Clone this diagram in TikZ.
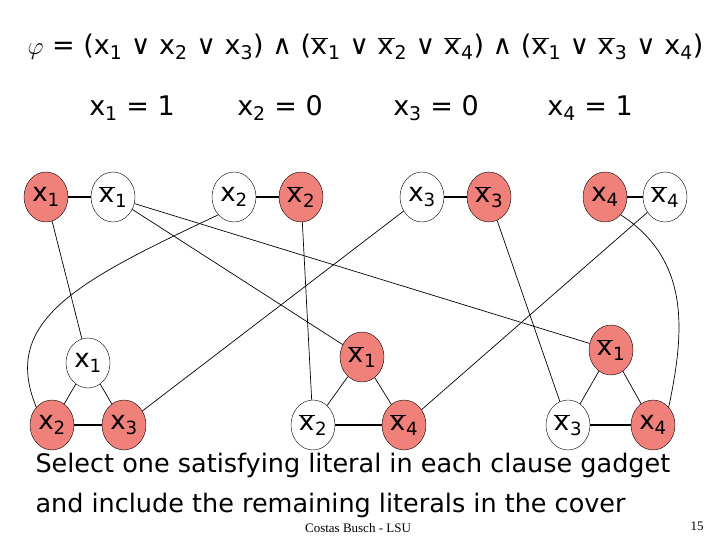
\documentclass[tikz,border=0pt]{standalone}
\usepackage{fontspec}
\setmainfont{DejaVu Sans}
\newfontfamily\footfont{Liberation Serif}
\usetikzlibrary{positioning,shapes.geometric}
\definecolor{litred}{RGB}{240,128,122}
\newcommand\lit[1]{x\textsubscript{#1}}
\newcommand\nlit[1]{$\overline{\hbox{x\kern1pt}}$\textsubscript{#1}}
\tikzset{
  var/.style={ellipse, draw, thin, minimum width=44pt, minimum height=50pt, inner sep=0pt, font=\fontsize{26}{28}\selectfont},
  cover/.style={var, fill=litred},
  line/.style={-, line width=0.7pt},
  pair/.style={-, line width=1.2pt},
  big/.style={font=\fontsize{27}{30}\selectfont},
  caption/.style={anchor=west, font=\fontsize{25.5}{28}\selectfont}
}
\begin{document}
\begin{tikzpicture}[x=1pt,y=-1pt]
  \useasboundingbox (0,0) rectangle (720,540);

  \node (phi) [big, anchor=west] at (24,47)
    {$\varphi$ = (\lit1 ∨ \lit2 ∨ \lit3) ∧ (\nlit1 ∨ \nlit2 ∨ \nlit4) ∧ (\nlit1 ∨ \nlit3 ∨ \lit4)};
  \node (a1) [big] at (132,108) {\lit1 = 1};
  \node (a2) [big] at (280,108) {\lit2 = 0};
  \node (a3) [big] at (436,108) {\lit3 = 0};
  \node (a4) [big] at (590,108) {\lit4 = 1};

% variable gadgets
  \node (v1) [cover] at (46,197) {\lit1};
  \node (n1) [var] at (113,197) {\nlit1};
  \node (v2) [var] at (234,197) {\lit2};
  \node (n2) [cover] at (301,197) {\nlit2};
  \node (v3) [var] at (422,197) {\lit3};
  \node (n3) [cover] at (489,197) {\nlit3};
  \node (v4) [cover] at (605,197) {\lit4};
  \node (n4) [var] at (665,197) {\nlit4};

% clause gadgets
  \node (ca) [var] at (88,363) {\lit1};
  \node (cb) [cover] at (52,425) {\lit2};
  \node (cc) [cover] at (124,425) {\lit3};
  \node (da) [cover] at (362,357) {\nlit1};
  \node (db) [var] at (313,425) {\nlit2};
  \node (dc) [cover] at (404,425) {\nlit4};
  \node (ea) [cover] at (611,350) {\nlit1};
  \node (eb) [var] at (568,425) {\nlit3};
  \node (ec) [cover] at (653,425) {\lit4};

   \draw[pair] (v1) -- (n1);
   \draw[pair] (v2) -- (n2);
   \draw[pair] (v3) -- (n3);
   \draw[pair] (v4) -- (n4);

   \draw[line] (ca) -- (cb);
   \draw[line] (ca) -- (cc);
   \draw[pair] (cb) -- (cc);
   \draw[line] (da) -- (db);
   \draw[line] (da) -- (dc);
   \draw[pair] (db) -- (dc);
   \draw[line] (ea) -- (eb);
   \draw[line] (ea) -- (ec);
   \draw[pair] (eb) -- (ec);

   \draw[line] (v1) -- (ca);
   \draw[line] (n1) -- (da);
   \draw[line] (n1) -- (ea);
   \draw[line] (v2.south west) .. controls (80,280) and (0,320) .. (cb.north west);
   \draw[line] (n2) -- (db);
   \draw[line] (v3) -- (cc);
   \draw[line] (n3) -- (eb);
   \draw[line] (n4) -- (dc);
   \draw[line] (v4.south east) .. controls (690,260) and (685,330) .. (ec.north east);

   \node (sel) [caption] at (32,465) {Select one satisfying literal in each clause gadget};
   \node (inc) [caption] at (32,505) {and include the remaining literals in the cover};
   \node (foot) [font=\footfont\fontsize{13}{15}\selectfont] at (358,528) {Costas Busch - LSU};
   \node (page) [font=\footfont\fontsize{13}{15}\selectfont] at (697,526) {15};
\end{tikzpicture}
\end{document}
